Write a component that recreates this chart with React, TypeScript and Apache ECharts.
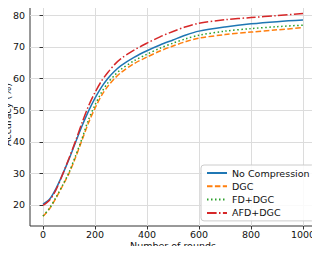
import React, { useEffect, useRef } from "react";
import * as echarts from "echarts";

const rounds = [0, 25, 50, 75, 100, 125, 150, 175, 200, 225, 250, 275, 300, 350, 400, 450, 500, 550, 600, 700, 800, 900, 1000];
const noCompression = [20.3, 21.8, 25.2, 29.6, 34.5, 39.8, 45, 49.7, 53.8, 57.3, 60.1, 62.3, 64.1, 66.7, 68.8, 70.6, 72.2, 73.8, 75.0, 76.3, 77.3, 78, 78.5];
const dgc = [16.4, 18.8, 22.2, 26, 30, 35, 40.5, 46, 50.6, 54.6, 57.6, 60.0, 61.9, 64.7, 66.8, 68.7, 70.3, 71.7, 72.8, 73.9, 74.7, 75.4, 76.1];
const fdDgc = [16.5, 19, 22.4, 26.2, 30.3, 35.5, 41, 47, 51.6, 55.6, 58.7, 61.0, 62.9, 65.6, 67.7, 69.6, 71.2, 72.6, 73.7, 75, 75.8, 76.4, 76.9];
const afdDgc = [19.9, 21.5, 24.8, 29.6, 34.8, 40.2, 46, 51.3, 55.6, 59.2, 62.0, 64.4, 66.3, 69.0, 71.2, 73.2, 74.9, 76.4, 77.5, 78.6, 79.3, 79.9, 80.6];

const xTicks = [0, 200, 400, 600, 800, 1000];
const yTicks = [20, 30, 40, 50, 60, 70, 80];
const xName = "Number of rounds";
const yName = "Accuracy (%)";

const FONT = "DejaVu Sans";
const FS = 9.5;

export default function App() {
  const ref = useRef<HTMLDivElement>(null);
  useEffect(() => {
    if (!ref.current) return;
    const chart = echarts.init(ref.current, null, { renderer: "svg" });
    const mk = (name: string, ys: number[], color: string, type: any) => ({
      name,
      type: "line",
      data: rounds.map((r, i) => [r, ys[i]]),
      smooth: 0.3,
      symbol: "none",
      lineStyle: { color, width: 1.5, type },
      itemStyle: { color },
    });
    chart.setOption({
      animation: false,
      grid: {
        left: 30,
        right: 4,
        top: 3,
        bottom: 28,
        outerBoundsMode: "none",
        containLabel: false,
        show: true,
        borderColor: "#333",
        borderWidth: 1,
        backgroundColor: "transparent",
      },
      graphic: [
        {
          type: "text",
          x: 173,
          y: 245.5,
          style: { text: xName, fontFamily: FONT, fontSize: FS, fill: "#111", align: "center", verticalAlign: "middle" },
        },
        {
          type: "text",
          x: 7.5,
          y: 114.5,
          rotation: Math.PI / 2,
          style: { text: yName, fontFamily: FONT, fontSize: FS, fill: "#111", align: "center", verticalAlign: "middle" },
        },
      ],
      xAxis: {
        type: "value",
        min: -50,
        max: 1050,
        axisLine: { show: false },
        axisTick: { show: true, inside: false, length: 3.5, customValues: xTicks, lineStyle: { color: "#333" } },
        axisLabel: { customValues: xTicks, formatter: (v: number) => String(v), fontFamily: FONT, fontSize: FS, color: "#111", margin: 3, lineHeight: 10 },
        splitLine: { show: true, lineStyle: { color: "#dcdcdc", width: 1 } },
      },
      yAxis: {
        type: "value",
        min: 13.35,
        max: 83.9,
        axisLine: { show: false },
        axisTick: { show: true, inside: false, length: 3.5, customValues: yTicks, lineStyle: { color: "#333" } },
        axisLabel: { customValues: yTicks, formatter: (v: number) => String(v), fontFamily: FONT, fontSize: FS, color: "#111", margin: 5 },
        splitLine: { show: true, lineStyle: { color: "#dcdcdc", width: 1 } },
      },
      legend: {
        orient: "vertical",
        left: 201,
        top: 165,
        itemWidth: 20,
        itemHeight: 10,
        itemGap: 3.3,
        padding: [3, 5, 3, 5],
        backgroundColor: "rgba(255,255,255,0.85)",
        borderColor: "#ccc",
        borderWidth: 1,
        borderRadius: 3,
        itemStyle: { opacity: 0 },
        textStyle: { fontFamily: FONT, fontSize: FS, color: "#111" },
        data: ["No Compression", "DGC", "FD+DGC", "AFD+DGC"],
      },
      series: [
        mk("No Compression", noCompression, "#1f77b4", "solid"),
        mk("DGC", dgc, "#ff7f0e", [5.5, 2.4]),
        mk("FD+DGC", fdDgc, "#2ca02c", [1.5, 2.5]),
        mk("AFD+DGC", afdDgc, "#d62728", [9.6, 2.4, 1.5, 2.4]),
      ],
    });
    return () => chart.dispose();
  }, []);
  return <div ref={ref} style={{ width: 320, height: 254, margin: -8 }} />;
}
